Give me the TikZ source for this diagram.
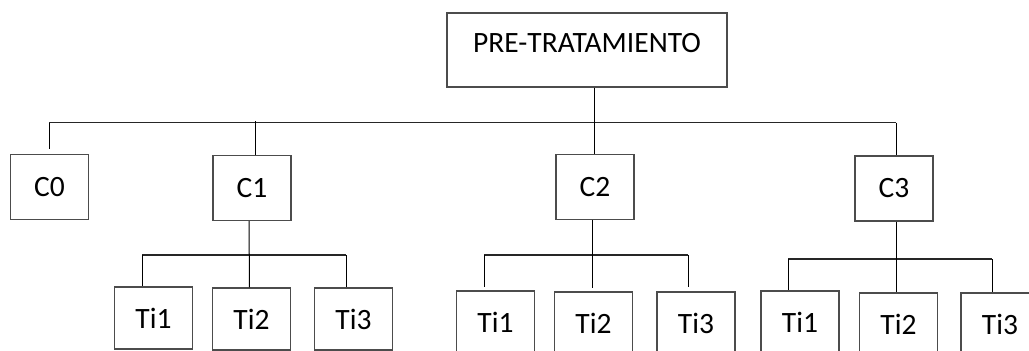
\documentclass[tikz,border=0pt]{standalone}
\usepackage{fontspec}
\setmainfont{Carlito}
\usetikzlibrary{positioning}

\tikzset{
  box/.style={draw=black!70, line width=1.2pt, minimum width=78pt, inner sep=0pt,
    font=\fontsize{29.5}{34}\selectfont},
  cbox/.style={box, minimum height=65pt},
  tbox/.style={box, minimum height=62pt},
  topbox/.style={box, minimum width=280pt, text height=20pt, text depth=16pt, inner ysep=19pt},
  link/.style={draw=black, line width=1pt},
  bar/.style={draw=black!85, line width=1.8pt}
}

\begin{document}
\begin{tikzpicture}[x=1pt,y=-1pt]
  \clip (0,0) rectangle (1029,351);

  \node[topbox]	(pre)	at (587,50)	{PRE-TRATAMIENTO};

  \node[cbox]	(c0)	at (49.5,187)	{C0};
  \node[cbox]	(c1)	at (252,188)	{C1};
  \node[cbox]	(c2)	at (595,187)	{C2};
  \node[cbox]	(c3)	at (894,188.5)	{C3};

  \node[tbox]	(t11)	at (153.5,318)	{Ti1};
  \node[tbox]	(t12)	at (251.5,319)	{Ti2};
  \node[tbox]	(t13)	at (353.5,319)	{Ti3};

  \node[tbox]	(t21)	at (495.5,322)	{Ti1};
  \node[tbox]	(t22)	at (593.5,323)	{Ti2};
  \node[tbox]	(t23)	at (696,323)	{Ti3};

  \node[tbox]	(t31)	at (800,322)	{Ti1};
  \node[tbox]	(t32)	at (898.5,324)	{Ti2};
  \node[tbox]	(t33)	at (1000,324)	{Ti3};

  % main level
  \coordinate (m0) at (49,122.5);
  \coordinate (m3) at (896,122.5);
  \draw[bar]	(m0) -- (m3);
  \draw[link]	([xshift=7pt]pre.south) -- ([xshift=-1pt]c2.north);
  \draw[link]	(m0) -- ([yshift=5pt]c0.north -| m0);
  \draw[link]	([xshift=3pt]c1.north) -- ++(0,-34);
  \draw[link]	(m3) -- ([xshift=2pt]c3.north);

  % under C1
  \coordinate (a1) at (142,255);
  \coordinate (a3) at (346,255);
  \draw[bar]	(a1) -- (a3);
  \draw[link]	([xshift=-3pt]c1.south) -- ([xshift=-2pt]t12.north);
  \draw[link]	(a1) -- (t11.north -| a1);
  \draw[link]	(a3) -- (t13.north -| a3);

  % under C2
  \coordinate (b1) at (484,255);
  \coordinate (b3) at (688,255);
  \draw[bar]	(b1) -- (b3);
  \draw[link]	([xshift=-3pt]c2.south) -- ++(0,68);
  \draw[link]	(b1) -- ++(0,32);
  \draw[link]	(b3) -- ++(0,32);

  % under C3
  \coordinate (d1) at (788,259);
  \coordinate (d3) at (992,259);
  \draw[bar]	(d1) -- (d3);
  \draw[link]	([xshift=2pt]c3.south) -- ([xshift=-2.5pt]t32.north);
  \draw[link]	(d1) -- (t31.north -| d1);
  \draw[link]	(d3) -- (t33.north -| d3);
\end{tikzpicture}
\end{document}
